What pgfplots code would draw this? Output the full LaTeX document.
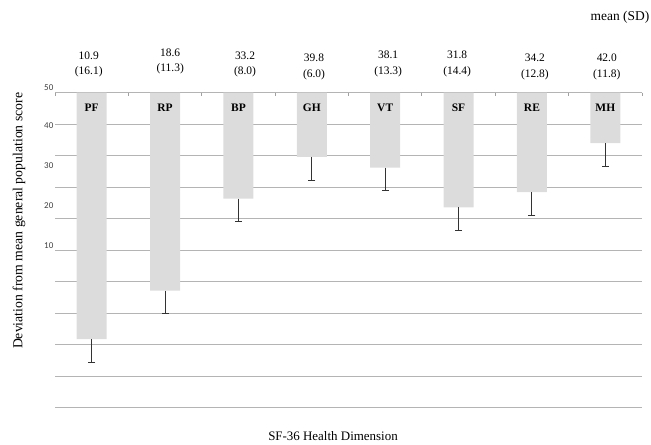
\documentclass[border=0pt]{standalone}
\usepackage{fontspec}
\setmainfont{Liberation Serif}
\newfontfamily\carlito{Carlito}
\usepackage{pgfplots}
\pgfplotsset{compat=1.18}
\usepackage{pgfplotstable}
\definecolor{barfill}{HTML}{DCDCDC}
\definecolor{gridc}{HTML}{B4B4B4}
\definecolor{topc}{HTML}{A0A0A0}
\definecolor{errc}{HTML}{333333}
\definecolor{tickc}{HTML}{404040}
\pgfplotstableread{
x mean sd name
0 10.9 16.1 PF
1 18.6 11.3 RP
2 33.2 8.0 BP
3 39.8 6.0 GH
4 38.1 13.3 VT
5 31.8 14.4 SF
6 34.2 12.8 RE
7 42.0 11.8 MH
}\data
\begin{document}
\begin{tikzpicture}
\begin{axis}[
  scale only axis, width=587bp, height=315bp,
  xmin=-0.5, xmax=7.5, ymin=-50, ymax=0,
  clip=false,
  axis line style={draw=none},
  xtick={-0.5,0.5,...,7.5}, xticklabels={},
  xtick pos=right, xtick align=inside,
  x tick style={draw=topc, line width=0.8bp},
  major tick length=3bp,
  ytick={-50,-45,...,0}, yticklabels={},
  y tick style={draw=none},
  ymajorgrids,
  major grid style={draw=gridc, line width=1bp},
  extra y ticks={-5.27,-11.6,-17.9,-24.3},
  extra y tick labels={40,30,20,10},
  extra y tick style={grid=none, y tick style={draw=none}},
  yticklabel style={font=\carlito\fontsize{9}{10}\selectfont, text=tickc, inner sep=1.5bp},
]
\addplot[ybar, bar width=30bp, fill=barfill, draw=none,
  error bars/.cd, y dir=minus, y fixed=3.7,
  error bar style={draw=errc, line width=1bp},
  error mark options={draw=errc, line width=1bp, mark size=3.5bp, rotate=90}]
  table[x=x, y expr=\thisrow{mean}-50] {\data};
\foreach \n [count=\i from 0] in {PF,RP,BP,GH,VT,SF,RE,MH}{
  \edef\tmp{\noexpand\node[font=\noexpand\bfseries\noexpand\fontsize{11.5}{13}\noexpand\selectfont] at (axis cs:\i,-2.38) {\n};}
  \tmp
}
\node[anchor=east, font=\carlito\fontsize{9}{10}\selectfont, text=tickc, inner sep=1.5bp] at (axis cs:-0.5,0.86) {50};
\node[font=\fontsize{11.5}{15.5}\selectfont, align=center] at (axis cs:-0.04,4.5) {10.9\\(16.1)};
\node[font=\fontsize{11.5}{15.5}\selectfont, align=center] at (axis cs:1.07,5.0) {18.6\\(11.3)};
\node[font=\fontsize{11.5}{15.5}\selectfont, align=center] at (axis cs:2.09,4.5) {33.2\\(8.0)};
\node[font=\fontsize{11.5}{15.5}\selectfont, align=center] at (axis cs:3.03,4.1) {39.8\\(6.0)};
\node[font=\fontsize{11.5}{15.5}\selectfont, align=center] at (axis cs:4.04,4.6) {38.1\\(13.3)};
\node[font=\fontsize{11.5}{15.5}\selectfont, align=center] at (axis cs:4.98,4.6) {31.8\\(14.4)};
\node[font=\fontsize{11.5}{15.5}\selectfont, align=center] at (axis cs:6.04,4.1) {34.2\\(12.8)};
\node[font=\fontsize{11.5}{15.5}\selectfont, align=center] at (axis cs:7.02,4.1) {42.0\\(11.8)};
\node[font=\fontsize{13.5}{15}\selectfont] at (rel axis cs:0.9625,1.2394) {mean (SD)};
\node[font=\fontsize{13}{15}\selectfont] at (rel axis cs:0.4736,-0.0898) {SF-36 Health Dimension};
\node[font=\fontsize{13.8}{15}\selectfont, rotate=90] at (rel axis cs:-0.0613,0.593) {Deviation from mean general population score};
\coordinate (bl) at (rel axis cs:0,0);
\coordinate (tr) at (rel axis cs:1,1);
\end{axis}
\pgfresetboundingbox
\path (bl) ++(-55bp,-37.3bp) coordinate (p1);
\path (tr) ++(9bp,92.7bp) coordinate (p2);
\path (p1) rectangle (p2);
\end{tikzpicture}
\end{document}
